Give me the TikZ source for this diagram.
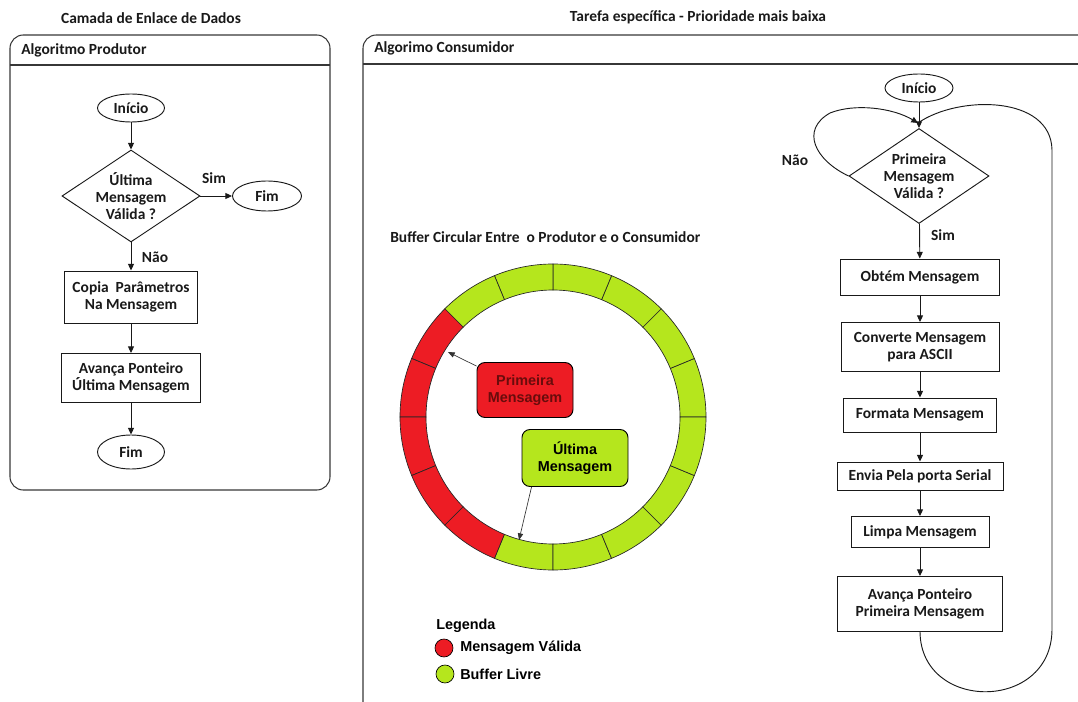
\documentclass[tikz,border=0pt]{standalone}
\usepackage{fontspec}
\setmainfont{Carlito}
\newfontfamily\paintfont{Liberation Sans}
\usetikzlibrary{shapes.geometric,arrows.meta}
\definecolor{paintred}{RGB}{237,28,36}
\definecolor{paintlime}{RGB}{181,230,29}
\definecolor{ink}{RGB}{25,25,25}
\definecolor{framegray}{RGB}{55,55,55}
\definecolor{darkwine}{RGB}{105,12,12}
\begin{document}
\begin{tikzpicture}[x=0.75pt,y=-0.75pt,
  every node/.style={font=\bfseries\fontsize{11.6}{12.6}\selectfont, text=ink},
  txt/.style={inner sep=0pt},
  term/.style={ellipse, draw=ink, line width=0.7pt, inner sep=0pt},
  proc/.style={rectangle, draw=ink, line width=0.7pt, align=center, inner sep=0pt},
  dec/.style={diamond, draw=ink, line width=0.7pt, align=center, inner sep=-1pt, aspect=1.5},
  flow/.style={draw=ink, line width=0.7pt, -{Triangle[length=5pt,width=4.5pt]}},
  link/.style={draw=ink, line width=0.7pt},
  panel/.style={draw=framegray, line width=0.8pt},
  tag/.style={rectangle, rounded corners=6pt, draw=black, line width=0.7pt, align=center, inner sep=0pt,
    font=\paintfont\bfseries\fontsize{10.8}{12.8}\selectfont},
  cell/.style={draw=black!85, line width=0.5pt},
  pointer/.style={draw=black!80, line width=0.5pt, -{Triangle[length=5pt,width=4pt]}},
  legtxt/.style={inner sep=0pt, anchor=west, font=\paintfont\bfseries\fontsize{10.8}{12}\selectfont, text=black}
]
\useasboundingbox (0,0) rectangle (1078,702);

% ---------- titles ----------
\node[txt] (tLeft) at (151,18) {Camada de Enlace de Dados};
\node[txt] (tRight) at (698,17) {Tarefa específica - Prioridade mais baixa};

% ---------- producer panel ----------
\draw[panel, rounded corners=10pt] (10,35) rectangle (330,490);
\draw[panel] (10,65) -- (330,65);
\node[txt, anchor=west] (hProd) at (21,50) {Algoritmo Produtor};

\node[term, minimum width=50.25pt, minimum height=21pt] (pStart) at (131,108) {Início};
\node[dec, minimum width=103.5pt, minimum height=69pt] (pQ) at (131,196) {Última\\Mensagem\\Válida ?};
\node[term, minimum width=51.75pt, minimum height=22.5pt] (pEndA) at (267,196) {Fim};
\node[proc, minimum width=99.75pt, minimum height=39pt] (pCopy) at (131,297) {Copia\ \ Parâmetros\\Na Mensagem};
\node[proc, minimum width=104.25pt, minimum height=36.75pt] (pAdv) at (131,378) {Avança Ponteiro\\Última Mensagem};
\node[term, minimum width=50.25pt, minimum height=25.5pt] (pEndB) at (131,452) {Fim};

\draw[flow] (pStart) -- (pQ);
\draw[flow] (pQ) -- (pEndA);
\draw[flow] (pQ) -- (pCopy);
\draw[flow] (pCopy) -- (pAdv);
\draw[flow] (pAdv) -- (pEndB);
\node[txt] (pYes) at (214,178) {Sim};
\node[txt] (pNo) at (155,257) {Não};

% ---------- consumer panel ----------
\draw[panel, rounded corners=10pt] (363,703) -- (363,35) -- (1079,35);
\draw[panel] (363,64) -- (1079,64);
\node[txt, anchor=west] (hCons) at (374,48) {Algorimo Consumidor};

\node[term, minimum width=51pt, minimum height=21pt] (cStart) at (919,88) {Início};
\coordinate (cJoin) at (918,123);
\node[dec, minimum width=105pt, minimum height=71.25pt] (cQ) at (919,176) {Primeira\\Mensagem\\Válida ?};
\node[proc, minimum width=119.25pt, minimum height=27pt] (cGet) at (920,277) {Obtém Mensagem};
\node[proc, minimum width=118.5pt, minimum height=36.75pt] (cConv) at (920,347) {Converte Mensagem\\para ASCII};
\node[proc, minimum width=114.75pt, minimum height=25.5pt] (cFmt) at (920,415) {Formata Mensagem};
\node[proc, minimum width=124.5pt, minimum height=21pt] (cSend) at (920,476) {Envia Pela porta Serial};
\node[proc, minimum width=103.5pt, minimum height=23.25pt] (cClr) at (920,532) {Limpa Mensagem};
\node[proc, minimum width=123.75pt, minimum height=41.25pt] (cAdv) at (920,604) {Avança Ponteiro\\Primeira Mensagem};

\draw[flow] (cStart) -- (cQ);
\draw[flow] (cQ) -- (cGet);
\draw[flow] (cGet) -- (cConv);
\draw[flow] (cConv) -- (cFmt);
\draw[flow] (cFmt) -- (cSend);
\draw[flow] (cSend) -- (cClr);
\draw[flow] (cClr) -- (cAdv);
\node[txt] (cYes) at (943,235) {Sim};
\node[txt] (cNo) at (795,160) {Não};

% retry loop on the left of the decision
\draw[flow] (cQ.west) .. controls (815,160) and (800,130) .. (830,113)
  .. controls (855,103) and (893,108) .. (cJoin);
% return path from the last step back to the decision
\draw[link] (cAdv.south) .. controls (921,712) and (1051,712) .. (1052,630)
  -- (1052,150) .. controls (1051,95) and (958,95) .. (cJoin);

% ---------- circular buffer ----------
\node[txt, anchor=west] (bufTitle) at (390,237) {Buffer Circular Entre\ \ o Produtor e o Consumidor};

\begin{scope}[shift={(553,417)}, yscale=-1]
  \foreach \i in {0,...,5,11,12,...,15} {
    \pgfmathsetmacro\a{\i*22.5}
    \pgfmathsetmacro\b{\a+22.5}
    \filldraw[cell, fill=paintlime] (\a:127) arc[start angle=\a, end angle=\b, radius=127]
      -- (\b:153) arc[start angle=\b, end angle=\a, radius=153] -- cycle;
  }
  \foreach \i in {6,...,10} {
    \pgfmathsetmacro\a{\i*22.5}
    \pgfmathsetmacro\b{\a+22.5}
    \filldraw[cell, fill=paintred] (\a:127) arc[start angle=\a, end angle=\b, radius=127]
      -- (\b:153) arc[start angle=\b, end angle=\a, radius=153] -- cycle;
  }
\end{scope}

\node[tag, fill=paintred, text=darkwine, minimum width=72pt, minimum height=41.25pt] (tagFirst) at (525,390) {Primeira\\Mensagem};
\node[tag, fill=paintlime, text=black, minimum width=79.5pt, minimum height=42.75pt] (tagLast) at (575,458) {Última\\Mensagem};
\coordinate (slotFirst) at (448,352);
\coordinate (slotLast) at (519,540);
\draw[pointer] (tagFirst) -- (slotFirst);
\draw[pointer] ([xshift=7.5pt]tagLast.south west) -- (slotLast);

% ---------- legend ----------
\node[legtxt] (legTitle) at (436,626) {Legenda};
\node[circle, draw=black, line width=0.5pt, fill=paintred, minimum size=13.5pt, inner sep=0pt] (legRed) at (444,648) {};
\node[legtxt] (legRedTxt) at (460,648) {Mensagem Válida};
\node[circle, draw=black, line width=0.5pt, fill=paintlime, minimum size=13.5pt, inner sep=0pt] (legGreen) at (445,674) {};
\node[legtxt] (legGreenTxt) at (460,674) {Buffer Livre};
\end{tikzpicture}
\end{document}
